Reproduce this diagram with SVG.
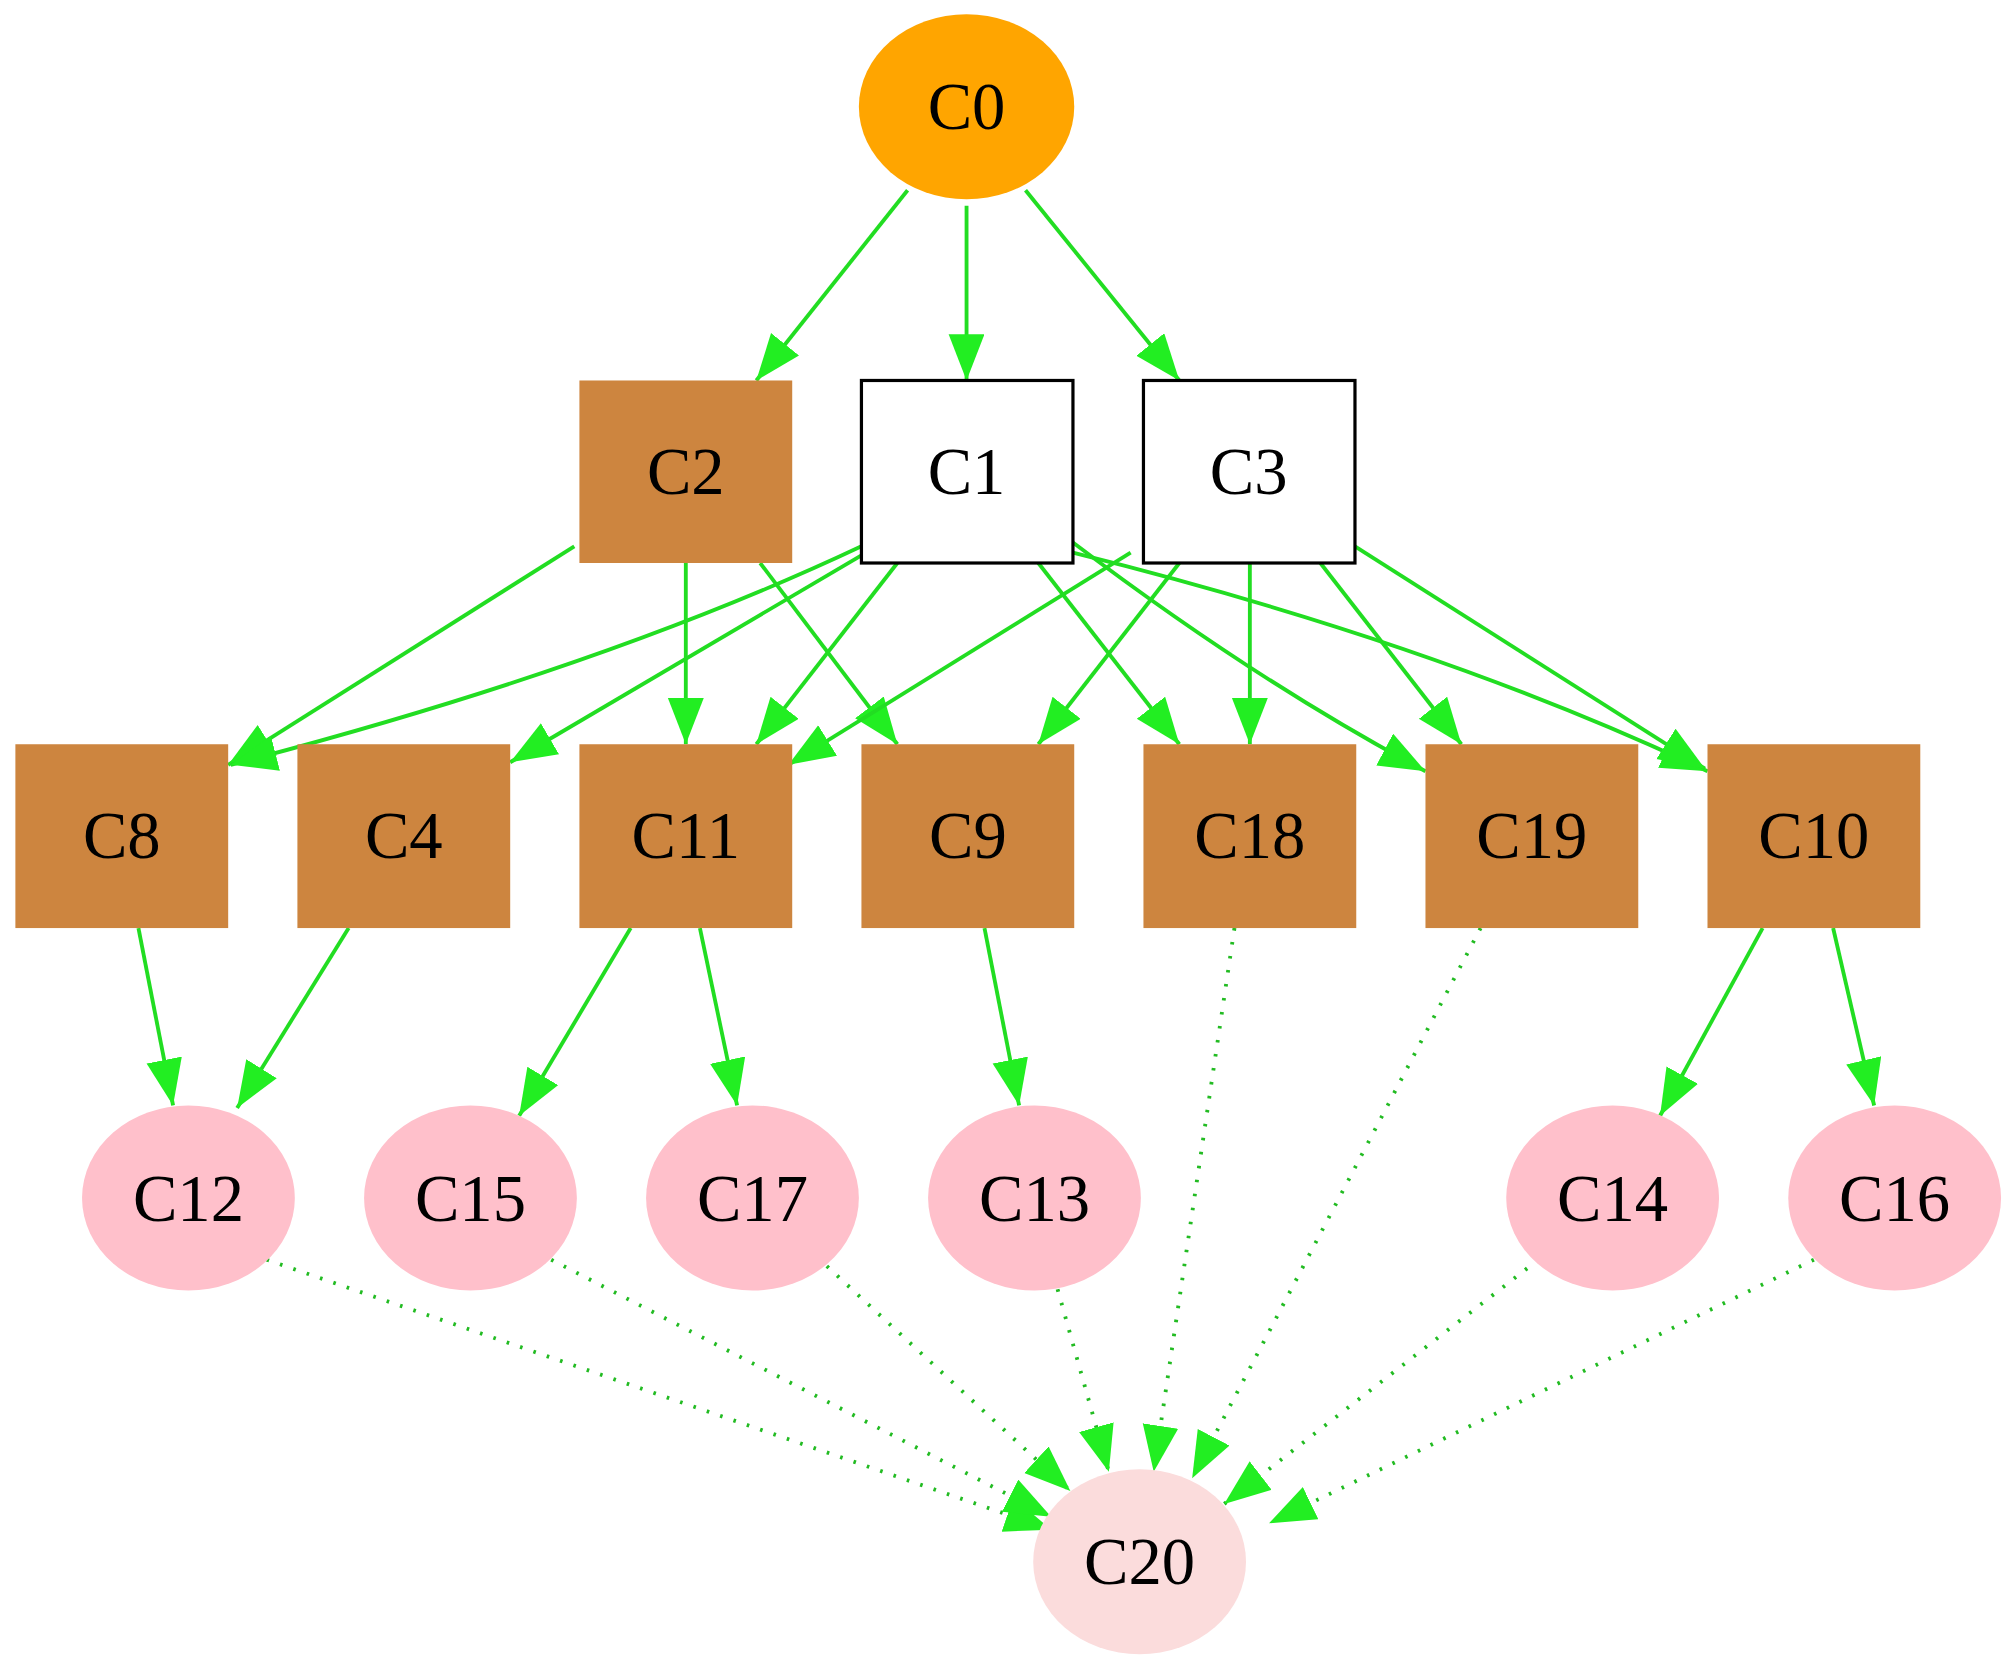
<svg xmlns="http://www.w3.org/2000/svg" width="2010" height="1671" viewBox="0 0 2010 1671">
<style>
.e{fill:none;stroke:#22dd22;stroke-width:3}
.d{fill:none;stroke:#22bb22;stroke-width:3;stroke-dasharray:2 9}
.t{font-family:"Liberation Serif",serif;font-size:52px;text-anchor:middle;dominant-baseline:central;fill:#000}
.b{fill:#cd853f}
.p{fill:#ffc0cb}
</style>
<defs>
<marker id="a" markerUnits="userSpaceOnUse" markerWidth="40" markerHeight="30" refX="36" refY="14" orient="auto" viewBox="0 0 40 30"><path d="M0,0 L36,14 L0,28 Z" fill="#22ee22"/></marker>
</defs>
<rect width="2010" height="1671" fill="#fff"/>
<g transform="scale(1.2819,1.2854)">
<g id="connectors">
<path class="e" marker-end="url(#a)" d="M708,148 L590,296"/>
<path class="e" marker-end="url(#a)" d="M754,160 L754,296"/>
<path class="e" marker-end="url(#a)" d="M800,148 L920,296"/>
<path class="e" marker-end="url(#a)" d="M448,425 L178,595"/>
<path class="e" marker-end="url(#a)" d="M535,438 L535,579"/>
<path class="e" marker-end="url(#a)" d="M593,438 L700,579"/>
<path class="e" marker-end="url(#a)" d="M672,425 Q470,520 180,595"/>
<path class="e" marker-end="url(#a)" d="M672,432 L398,593"/>
<path class="e" marker-end="url(#a)" d="M700,438 L590,579"/>
<path class="e" marker-end="url(#a)" d="M810,438 L920,579"/>
<path class="e" marker-end="url(#a)" d="M837,422 Q980,530 1112,600"/>
<path class="e" marker-end="url(#a)" d="M837,430 Q1120,500 1332,600"/>
<path class="e" marker-end="url(#a)" d="M882,430 L615,595"/>
<path class="e" marker-end="url(#a)" d="M920,438 L810,579"/>
<path class="e" marker-end="url(#a)" d="M975,438 L975,579"/>
<path class="e" marker-end="url(#a)" d="M1030,438 L1140,579"/>
<path class="e" marker-end="url(#a)" d="M1057,425 L1330,598"/>
<path class="e" marker-end="url(#a)" d="M108,722 L135,860"/>
<path class="e" marker-end="url(#a)" d="M272,722 L185,862"/>
<path class="e" marker-end="url(#a)" d="M492,722 L405,868"/>
<path class="e" marker-end="url(#a)" d="M546,722 L575,860"/>
<path class="e" marker-end="url(#a)" d="M768,722 L795,860"/>
<path class="e" marker-end="url(#a)" d="M1375,722 L1295,868"/>
<path class="e" marker-end="url(#a)" d="M1430,722 L1462,860"/>
<path class="d" marker-end="url(#a)" d="M208,980 L820,1190"/>
<path class="d" marker-end="url(#a)" d="M430,980 L820,1180"/>
<path class="d" marker-end="url(#a)" d="M645,985 L835,1160"/>
<path class="d" marker-end="url(#a)" d="M825,1003 L865,1145"/>
<path class="d" marker-end="url(#a)" d="M963,722 L900,1145"/>
<path class="d" marker-end="url(#a)" d="M1155,722 L930,1150"/>
<path class="d" marker-end="url(#a)" d="M1200,980 L955,1170"/>
<path class="d" marker-end="url(#a)" d="M1415,980 L990,1185"/>
</g>
<g id="C0"><ellipse cx="754" cy="83" rx="84" ry="72" fill="#ffa500"/><text class="t" x="754" y="83">C0</text></g>
<g id="C2"><rect class="b" x="452" y="296" width="166" height="142"/><text class="t" x="535" y="367">C2</text></g>
<g id="C1"><rect x="672" y="296" width="165" height="142" fill="#fff" stroke="#000" stroke-width="2.5"/><text class="t" x="754" y="367">C1</text></g>
<g id="C3"><rect x="892" y="296" width="165" height="142" fill="#fff" stroke="#000" stroke-width="2.5"/><text class="t" x="974" y="367">C3</text></g>
<g id="C8"><rect class="b" x="12" y="579" width="166" height="143"/><text class="t" x="95" y="650">C8</text></g>
<g id="C4"><rect class="b" x="232" y="579" width="166" height="143"/><text class="t" x="315" y="650">C4</text></g>
<g id="C11"><rect class="b" x="452" y="579" width="166" height="143"/><text class="t" x="535" y="650">C11</text></g>
<g id="C9"><rect class="b" x="672" y="579" width="166" height="143"/><text class="t" x="755" y="650">C9</text></g>
<g id="C18"><rect class="b" x="892" y="579" width="166" height="143"/><text class="t" x="975" y="650">C18</text></g>
<g id="C19"><rect class="b" x="1112" y="579" width="166" height="143"/><text class="t" x="1195" y="650">C19</text></g>
<g id="C10"><rect class="b" x="1332" y="579" width="166" height="143"/><text class="t" x="1415" y="650">C10</text></g>
<g id="C12"><ellipse class="p" cx="147" cy="932" rx="83" ry="72"/><text class="t" x="147" y="932">C12</text></g>
<g id="C15"><ellipse class="p" cx="367" cy="932" rx="83" ry="72"/><text class="t" x="367" y="932">C15</text></g>
<g id="C17"><ellipse class="p" cx="587" cy="932" rx="83" ry="72"/><text class="t" x="587" y="932">C17</text></g>
<g id="C13"><ellipse class="p" cx="807" cy="932" rx="83" ry="72"/><text class="t" x="807" y="932">C13</text></g>
<g id="C14"><ellipse class="p" cx="1258" cy="932" rx="83" ry="72"/><text class="t" x="1258" y="932">C14</text></g>
<g id="C16"><ellipse class="p" cx="1478" cy="932" rx="83" ry="72"/><text class="t" x="1478" y="932">C16</text></g>
<g id="C20"><ellipse cx="889" cy="1215" rx="83" ry="72" fill="#fbdcdc"/><text class="t" x="889" y="1215">C20</text></g>
</g>
</svg>
